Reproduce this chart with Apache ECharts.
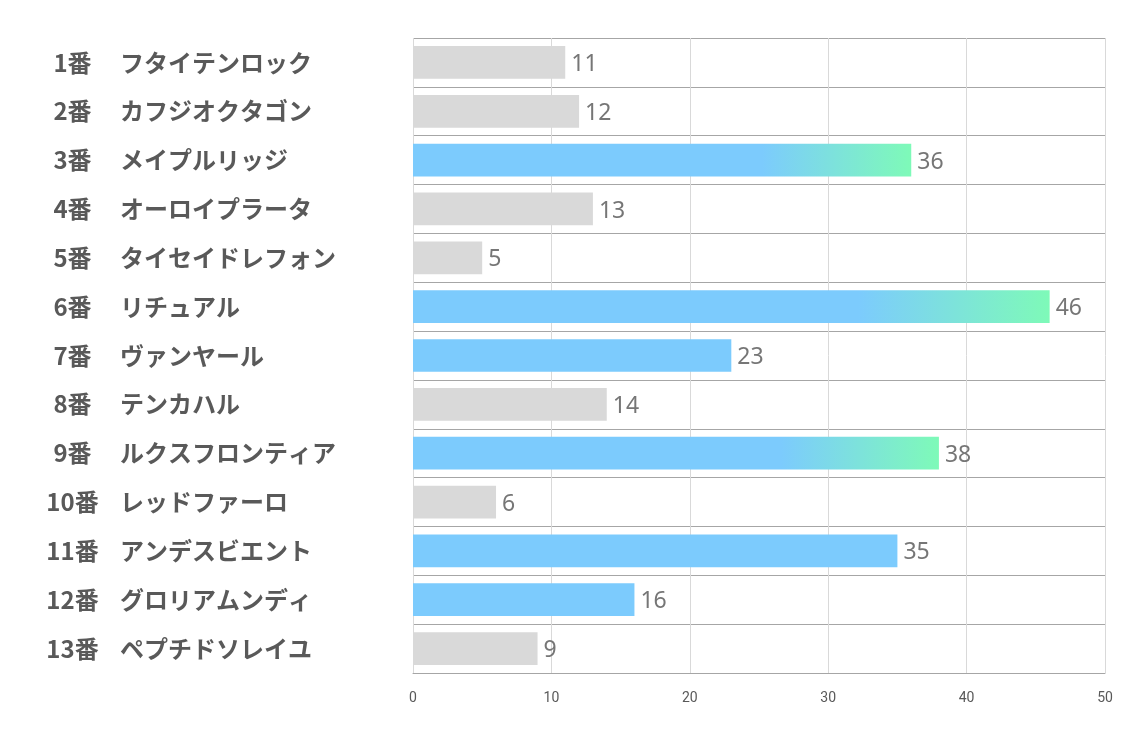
<!DOCTYPE html>
<html>
<head>
<meta charset="utf-8">
<script src="https://cdn.jsdelivr.net/npm/echarts@6/dist/echarts.min.js"></script>
<style>html,body{margin:0;padding:0;background:#fff}#c{width:1134px;height:737px}</style>
</head>
<body>
<div id="c"></div>
<script>
var numbers = ['1番','2番','3番','4番','5番','6番','7番','8番','9番','10番','11番','12番','13番'];
var names = ['フタイテンロック','カフジオクタゴン','メイプルリッジ','オーロイプラータ','タイセイドレフォン','リチュアル','ヴァンヤール','テンカハル','ルクスフロンティア','レッドファーロ','アンデスビエント','グロリアムンディ','ペプチドソレイユ'];
var values = [11,12,36,13,5,46,23,14,38,6,35,16,9];
var tiers = [0,0,2,0,0,2,1,0,2,0,1,1,0]; // 2: top, 1: notable, 0: other
var xTicks = [0,10,20,30,40,50];

var GRAY = '#d9d9d9', BLUE = '#7ccbfd', GREEN = '#7efab8';
function barColor(t){
  if (t === 2) return new echarts.graphic.LinearGradient(0,0,1,0,[
    {offset:0,color:BLUE},{offset:0.7,color:BLUE},{offset:1,color:GREEN}]);
  if (t === 1) return BLUE;
  return GRAY;
}
var chart = echarts.init(document.getElementById('c'));
chart.setOption({
  animation:false,
  grid:{left:413,right:29,top:38,bottom:64},
  xAxis:{
    type:'value', min:xTicks[0], max:xTicks[xTicks.length-1], interval:10,
    axisLine:{show:true,lineStyle:{color:'#a6a6a6',width:1}},
    axisTick:{show:false},
    splitLine:{show:true,lineStyle:{color:'#d9d9d9',width:1}},
    axisLabel:{color:'#595959',fontSize:14,margin:18,fontFamily:'Liberation Sans Narrow, Roboto, sans-serif'}
  },
  yAxis:{
    type:'category', inverse:true, data:names,
    axisLine:{show:false}, axisTick:{show:false},
    splitLine:{show:true,lineStyle:{color:'#a6a6a6',width:1}},
    axisLabel:{
      align:'left', margin:378,
      formatter:function(v,i){return '{a|'+numbers[i]+'}{b|'+v+'}';},
      rich:{
        a:{width:75,align:'right',fontSize:24,fontWeight:'bold',color:'#595959',fontFamily:'Noto Sans CJK JP'},
        b:{padding:[0,0,0,10],fontSize:24,fontWeight:'bold',color:'#595959',fontFamily:'Noto Sans CJK JP'}
      }
    }
  },
  series:[{
    type:'bar',
    data:values.map(function(v,i){return {value:v,itemStyle:{color:barColor(tiers[i])}};}),
    barWidth:'67%',
    label:{show:true,position:'right',distance:6,offset:[0,2],color:'#767676',fontSize:23,fontFamily:'Noto Sans, sans-serif'}
  }]
});
</script>
</body>
</html>
